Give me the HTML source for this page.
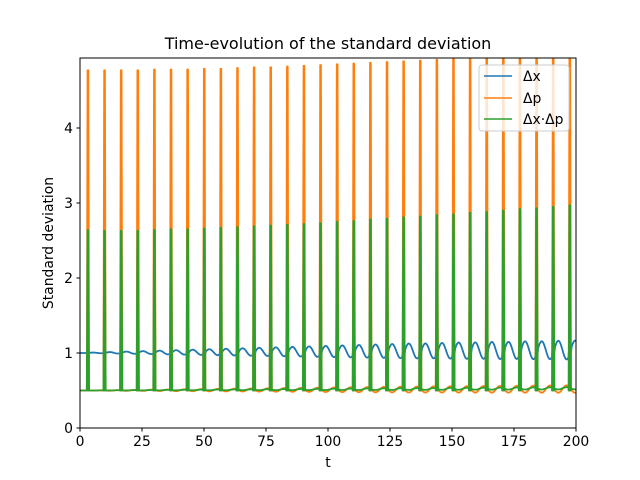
<!DOCTYPE html>
<html><head><meta charset="utf-8"><style>
body{margin:0;background:#fff}
svg{display:block;font-family:"DejaVu Sans","Liberation Sans",sans-serif}
</style></head><body>
<svg id="c" width="640" height="480" viewBox="0 0 640 480">
<rect width="640" height="480" fill="#fff"/>
<text x="328" y="49" font-size="16" text-anchor="middle">Time-evolution of the standard deviation</text>
<defs><clipPath id="pc"><rect x="80" y="58" width="496" height="370"/></clipPath></defs>
<g id="series" clip-path="url(#pc)"></g>
<g id="axes"></g>
<g>
<rect x="479" y="65" width="90" height="66" rx="3" fill="#fff" fill-opacity="0.8" stroke="#ccc"/>
<line x1="484" y1="76" x2="512" y2="76" stroke="#1f77b4" stroke-width="1.5"/>
<text x="523" y="81" font-size="13.9">Δx</text>
<line x1="484" y1="98" x2="512" y2="98" stroke="#ff7f0e" stroke-width="1.5"/>
<text x="523" y="103" font-size="13.9">Δp</text>
<line x1="484" y1="119" x2="512" y2="119" stroke="#2ca02c" stroke-width="1.5"/>
<text x="523" y="124" font-size="13.9">Δx·Δp</text>
</g>
</svg>
<script>
const spikeTimes=[3.2,9.9,16.6,23.3,30.0,36.7,43.4,50.1,56.8,63.5,70.2,76.9,83.6,90.3,97.0,103.7,110.4,117.1,123.8,130.5,137.2,143.9,150.6,157.3,164.0,170.7,177.4,184.1,190.8,197.5];
const dpPeaks=[4.77,4.77,4.77,4.77,4.78,4.78,4.78,4.79,4.79,4.80,4.81,4.81,4.82,4.83,4.84,4.85,4.86,4.87,4.88,4.89,4.90,4.91,4.93,4.95,4.97,4.99,5.01,5.03,5.05,5.07];
const prodPeaks=[2.64,2.63,2.63,2.63,2.64,2.65,2.65,2.66,2.67,2.68,2.69,2.70,2.71,2.72,2.73,2.75,2.76,2.78,2.79,2.81,2.82,2.84,2.85,2.87,2.88,2.90,2.92,2.93,2.95,2.97];
const dxAmp=[0.005,0.01,0.015,0.02,0.025,0.03,0.035,0.04,0.045,0.05,0.055,0.06,0.065,0.07,0.075,0.08,0.085,0.09,0.095,0.1,0.1,0.105,0.11,0.11,0.115,0.115,0.12,0.12,0.125,0.125];
const dpAmp=[0.002,0.004,0.006,0.008,0.01,0.012,0.014,0.016,0.018,0.02,0.022,0.024,0.026,0.028,0.03,0.032,0.034,0.036,0.038,0.04,0.041,0.042,0.043,0.044,0.045,0.046,0.047,0.048,0.049,0.05];
const xTicks=[0,25,50,75,100,125,150,175,200];
const yTicks=[0,1,2,3,4];
const X=t=>80+t*496/200, Y=v=>428-v*75;
const NS='http://www.w3.org/2000/svg';
function el(tag,attrs,parent){const e=document.createElementNS(NS,tag);for(const k in attrs)e.setAttribute(k,attrs[k]);parent.appendChild(e);return e;}
const P=6.7, w=0.45, h=0.15;
function base(kind,k,t){
  const ts=spikeTimes[k];
  const ph=2*Math.PI*(t-ts)/P;
  if(kind==0)return 1+0.0002*t-dxAmp[k]*Math.cos(ph+1.2);
  if(kind==1)return 0.5+0.0001*t+dpAmp[k]*Math.cos(ph+1.2);
  return 0.5+0.00015*t+dpAmp[k]*0.3*Math.cos(ph+1.2);
}
function build(kind){
  let pts=[];
  const n=spikeTimes.length;
  for(let t=0;t<spikeTimes[0]-w;t+=0.25)pts.push([t,kind==0?1:0.5]);
  for(let k=0;k<n;k++){
    const s=spikeTimes[k];
    const pk=kind==0?0.5:kind==1?dpPeaks[k]:prodPeaks[k];
    const b=kind==0?1:0.5;
    pts.push([s-w,b],[s-h,pk],[s,b],[s+h,pk],[s+w,b]);
    const te=k+1<n?spikeTimes[k+1]-w:200.5;
    for(let t=s+w+0.25;t<te;t+=0.25)pts.push([t,base(kind,k,t)]);
  }
  return pts.map(p=>X(p[0]).toFixed(2)+','+Y(p[1]).toFixed(2)).join(' ');
}
const g=document.getElementById('series');
const cols=['#1f77b4','#ff7f0e','#2ca02c'], names=['line-dx','line-dp','line-dxdp'];
for(let i=0;i<3;i++){
  const pl=el('polyline',{points:build(i),fill:'none',stroke:cols[i],'stroke-width':1.8,'stroke-linejoin':'round'},g);
  
  
}
const a=document.getElementById('axes');
el('rect',{x:80,y:58,width:496,height:370,fill:'none',stroke:'#000','stroke-width':1},a);
xTicks.forEach(t=>{
  el('line',{x1:X(t),y1:428,x2:X(t),y2:431.5,stroke:'#000'},a);
  const tx=el('text',{x:X(t),y:446,'font-size':13.9,'text-anchor':'middle'},a);tx.textContent=t;
  
  
});
yTicks.forEach(v=>{
  el('line',{x1:76.5,y1:Y(v),x2:80,y2:Y(v),stroke:'#000'},a);
  const tx=el('text',{x:73,y:Y(v)+5,'font-size':13.9,'text-anchor':'end'},a);tx.textContent=v;
  
  
});
const xl=el('text',{x:328,y:467,'font-size':13.9,'text-anchor':'middle'},a);xl.textContent='t';


const yl=el('text',{x:53,y:243,'font-size':13.9,'text-anchor':'middle',transform:'rotate(-90 53 243)'},a);yl.textContent='Standard deviation';


</script>
</body></html>
